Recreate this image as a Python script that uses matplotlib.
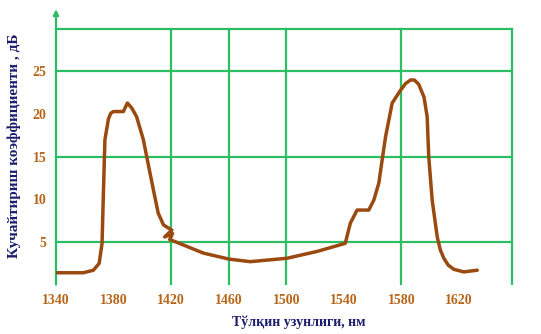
import matplotlib.pyplot as plt

# values
wavelength = [1340.5, 1359, 1366, 1370, 1372, 1373, 1374, 1376.4, 1378, 1380, 1386.8,
              1389.6, 1392.7, 1396, 1400.7, 1404, 1407.7, 1411, 1414.7, 1420.5,
              1415.5, 1421, 1419, 1428.6, 1442.5, 1460.3, 1475, 1500.5, 1521.4,
              1541, 1544.5, 1549.2, 1557.3, 1560.8, 1564.3, 1566.6, 1569, 1573.6,
              1579.4, 1583, 1586.4, 1589, 1592, 1595.7, 1597.9, 1599, 1601.4, 1604.9,
              1607, 1609.5, 1612.5, 1616.5, 1623.4, 1632.7]
gain = [1.4, 1.4, 1.7, 2.5, 4.85, 11.1, 17.0, 19.4, 20.1, 20.3, 20.3,
        21.3, 20.7, 19.7, 17.0, 14.2, 11.1, 8.4, 7.0, 6.4,
        5.6, 6.0, 5.3, 4.65, 3.7, 3.0, 2.7, 3.1, 3.9,
        4.85, 7.2, 8.75, 8.75, 9.9, 11.9, 14.6, 17.35, 21.3,
        22.8, 23.6, 24.0, 24.0, 23.5, 22.0, 19.7, 15.0, 9.9, 5.6,
        4.1, 3.1, 2.3, 1.8, 1.5, 1.7]

xtick_vals = [1340, 1380, 1420, 1460, 1500, 1540, 1580, 1620]
ytick_vals = [5, 10, 15, 20, 25]
vgrid = [1420, 1460, 1500, 1580, 1657]
hgrid = [5, 15, 25, 30]

green = '#2dbe64'
brown = '#9a4a10'
tick_col = '#b8661a'
label_col = '#1c1c6e'

fig = plt.figure(figsize=(5.41, 3.34), dpi=100)
ax = fig.add_axes([0.1035, 0.1476, 0.8965, 0.83])
ax.set_xlim(1340, 1677)
ax.set_ylim(0, 32.5)
for s in ax.spines.values():
    s.set_visible(False)

for x in vgrid:
    ax.plot([x, x], [0, 30], color=green, lw=1.6, zorder=1)
for y in hgrid:
    ax.plot([1340, vgrid[-1]], [y, y], color=green, lw=1.6, zorder=1)
ax.annotate('', xy=(1340, 32.3), xytext=(1340, 0),
            arrowprops=dict(arrowstyle='-|>', color=green, lw=1.6,
                            mutation_scale=8, shrinkA=0, shrinkB=0),
            annotation_clip=False)

ax.plot(wavelength, gain, color=brown, lw=2.5, solid_capstyle='round',
        solid_joinstyle='round', zorder=3)

ax.set_xticks(xtick_vals)
ax.set_xticklabels([str(v) for v in xtick_vals])
ax.set_yticks(ytick_vals)
ax.set_yticklabels([str(v) for v in ytick_vals])
ax.tick_params(length=0, pad=7, labelcolor=tick_col)
for t in ax.get_xticklabels() + ax.get_yticklabels():
    t.set_fontfamily('Liberation Serif')
    t.set_fontweight('bold')
    t.set_fontsize(10)

ax.set_xlabel('Тўлқин узунлиги, нм', fontfamily='Liberation Serif',
              fontweight='bold', fontsize=10, color=label_col, labelpad=6)
ax.set_ylabel('Кучайтириш коэффициенти , дБ', fontfamily='Liberation Serif',
              fontweight='bold', fontsize=11, color=label_col, labelpad=8)

fig.savefig('out.png', dpi=100)
